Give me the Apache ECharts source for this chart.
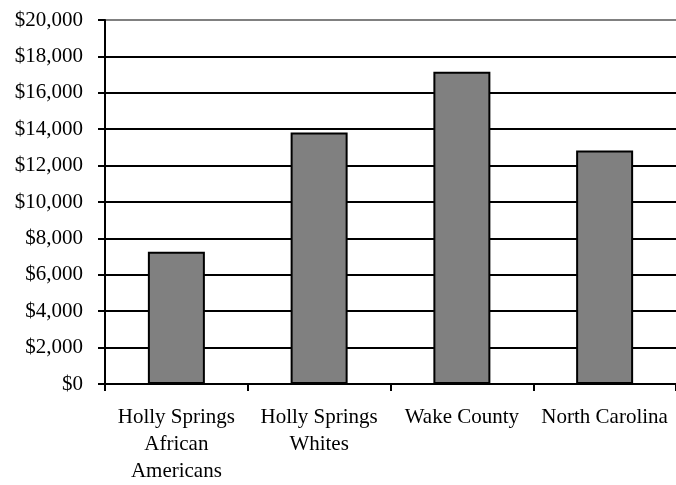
<!DOCTYPE html>
<html>
<head>
<meta charset="utf-8">
<script src="https://cdn.jsdelivr.net/npm/echarts@6/dist/echarts.min.js"></script>
<style>
  html, body { margin: 0; padding: 0; background: #fff; overflow: hidden; }
  #chart { width: 676px; height: 485px; }
</style>
</head>
<body>
<div id="chart"></div>
<script>
// Per-capita income by group
const categories = [
  'Holly Springs\nAfrican\nAmericans',
  'Holly Springs\nWhites',
  'Wake County',
  'North Carolina'
];
const incomeValues = [7270, 13820, 17160, 12830];

// Dollar axis: 0 to 20,000 in steps of 2,000
const yMin = 0;
const yMax = 20000;
const yStep = 2000;

function dollars(v) {
  return '$' + String(Math.round(v)).replace(/\B(?=(\d{3})+(?!\d))/g, ',');
}

const fontFamily = '"Liberation Serif", "Times New Roman", serif';
const tickCount = (yMax - yMin) / yStep + 1;
// Every gridline is black except the topmost, which is grey
const gridColors = [];
for (let i = 0; i < tickCount; i++) {
  gridColors.push(i === tickCount - 1 ? '#808080' : '#000000');
}

const chart = echarts.init(document.getElementById('chart'), null, { renderer: 'canvas' });
chart.setOption({
  animation: false,
  backgroundColor: '#ffffff',
  grid: { left: 105, top: 20, width: 575, height: 368, containLabel: false },
  xAxis: {
    type: 'category',
    data: categories,
    boundaryGap: true,
    axisLine: { show: true, lineStyle: { color: '#000', width: 2 } },
    axisTick: { show: true, alignWithLabel: false, length: 7, lineStyle: { color: '#000', width: 2 } },
    axisLabel: {
      interval: 0,
      margin: 20,
      color: '#000',
      fontFamily: fontFamily,
      fontSize: 21,
      lineHeight: 27,
      align: 'center'
    },
    splitLine: { show: false }
  },
  yAxis: {
    type: 'value',
    min: yMin,
    max: yMax,
    interval: yStep,
    axisLine: { show: true, lineStyle: { color: '#000', width: 2 } },
    axisTick: { show: true, length: 7, lineStyle: { color: '#000', width: 2 } },
    axisLabel: {
      margin: 22,
      color: '#000',
      fontFamily: fontFamily,
      fontSize: 21,
      formatter: dollars
    },
    splitLine: { show: true, lineStyle: { color: gridColors, width: 2 } }
  },
  series: [{
    type: 'bar',
    data: incomeValues,
    barWidth: 57,
    itemStyle: { color: '#808080', borderColor: '#000', borderWidth: 2 }
  }]
});
</script>
</body>
</html>
